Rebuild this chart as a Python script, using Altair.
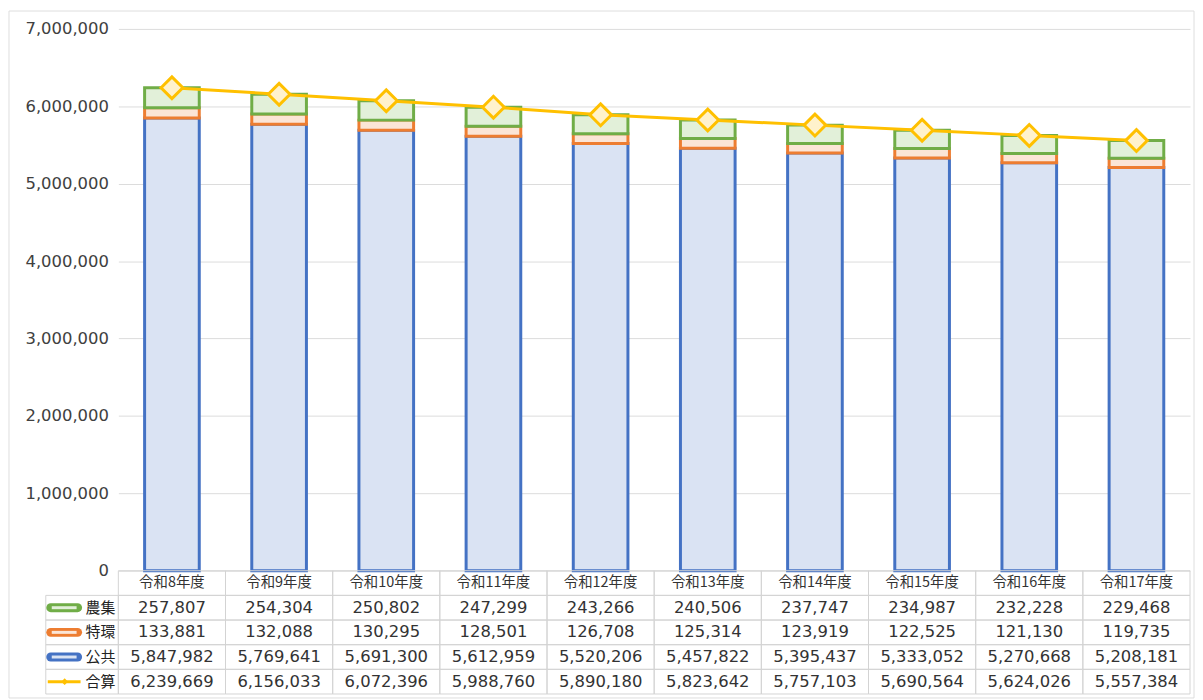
import altair as alt
import pandas as pd

categories = ["令和8年度", "令和9年度", "令和10年度", "令和11年度", "令和12年度",
              "令和13年度", "令和14年度", "令和15年度", "令和16年度", "令和17年度"]
nosyu = [257807, 254304, 250802, 247299, 243266, 240506, 237747, 234987, 232228, 229468]
tokkan = [133881, 132088, 130295, 128501, 126708, 125314, 123919, 122525, 121130, 119735]
kokyo = [5847982, 5769641, 5691300, 5612959, 5520206, 5457822, 5395437, 5333052, 5270668, 5208181]
total = [6239669, 6156033, 6072396, 5988760, 5890180, 5823642, 5757103, 5690564, 5624026, 5557384]
y_ticks = [0, 1000000, 2000000, 3000000, 4000000, 5000000, 6000000, 7000000]

series_names = ["公共", "特環", "農集"]
series_values = {"公共": kokyo, "特環": tokkan, "農集": nosyu}
stroke_colors = ["#4472C4", "#ED7D31", "#70AD47"]
fill_colors = ["#DAE3F3", "#FBE5D6", "#E2F0D9"]
line_color = "#FFC000"
diamond_fill = "#FFF2CC"

NUM_FONT = "DejaVu Sans"
CJK_FONT = "Noto Sans CJK JP"
TEXT_COLOR = "#404040"

rows = []
for i, s in enumerate(series_names):
    for c, v in zip(categories, series_values[s]):
        rows.append({"cat": c, "series": s, "value": v, "ord": i})
bar_df = pd.DataFrame(rows)
tot_df = pd.DataFrame({"cat": categories, "value": total})

W = 1078
H_TOP = 545
H_TAB = 124

x_top = alt.X("cat:N", sort=categories, axis=None,
              scale=alt.Scale(paddingInner=0.49, paddingOuter=0.245))
y_scale = alt.Scale(domain=[0, 7000000])
y_axis = alt.Axis(values=y_ticks, format=",.0f", labelFont=NUM_FONT, labelFontSize=16.5,
                  labelColor=TEXT_COLOR, labelPadding=10, domain=False, ticks=False,
                  gridColor="#dcdcdc", gridWidth=1)

frame = alt.Chart(pd.DataFrame({"k": [0]})).mark_rect(
    fillOpacity=0, stroke="#dedede", strokeWidth=1).encode(
    x=alt.value(-110), x2=alt.value(W + 4), y=alt.value(-18), y2=alt.value(H_TOP + H_TAB + 4))
bars = alt.Chart(bar_df).mark_bar(strokeWidth=3).encode(
    x=x_top,
    y=alt.Y("value:Q", stack="zero", scale=y_scale, axis=y_axis, title=None),
    fill=alt.Fill("series:N", scale=alt.Scale(domain=series_names, range=fill_colors), legend=None),
    stroke=alt.Stroke("series:N", scale=alt.Scale(domain=series_names, range=stroke_colors), legend=None),
    order=alt.Order("ord:Q", sort="ascending"),
)
line = alt.Chart(tot_df).mark_line(color=line_color, strokeWidth=3).encode(
    x=x_top, y=alt.Y("value:Q", scale=y_scale, title=None))
pts = alt.Chart(tot_df).mark_point(shape="diamond", size=480, filled=True, fill=diamond_fill,
                                   stroke=line_color, strokeWidth=3, opacity=1).encode(
    x=x_top, y=alt.Y("value:Q", scale=y_scale, title=None))
top = alt.layer(bars, line, pts, frame).properties(width=W, height=H_TOP)

# ---------- data table ----------
row_keys = ["header", "農集", "特環", "公共", "合算"]
table_vals = {"農集": nosyu, "特環": tokkan, "公共": kokyo, "合算": total}
cell_rows = []
for r in row_keys:
    for j, c in enumerate(categories):
        txt = c if r == "header" else f"{table_vals[r][j]:,}"
        cell_rows.append({"cat": c, "row": r, "txt": txt})
cell_df = pd.DataFrame(cell_rows)
name_df = pd.DataFrame({"row": ["農集", "特環", "公共", "合算"]})
sym_df = pd.DataFrame({"row": ["農集", "特環", "公共"]})

x_tab = alt.X("cat:N", sort=categories, axis=None, scale=alt.Scale(paddingInner=0, paddingOuter=0))
y_tab = alt.Y("row:N", sort=row_keys, axis=None,
              scale=alt.Scale(domain=row_keys, paddingInner=0, paddingOuter=0))
grid_color = "#d4d4d4"

cells = alt.Chart(cell_df).mark_rect(fillOpacity=0, stroke=grid_color, strokeWidth=1).encode(x=x_tab, y=y_tab)
head_txt = alt.Chart(cell_df).transform_filter(alt.datum.row == "header").mark_text(
    font=CJK_FONT, fontSize=14.5, color="#333333").encode(x=x_tab, y=y_tab, text="txt:N")
num_txt = alt.Chart(cell_df).transform_filter(alt.datum.row != "header").mark_text(
    font=NUM_FONT, fontSize=16.5, color="#333333").encode(x=x_tab, y=y_tab, text="txt:N")
left_cells = alt.Chart(name_df).mark_rect(fillOpacity=0, stroke=grid_color, strokeWidth=1).encode(
    x=alt.value(-73), x2=alt.value(0), y=y_tab)
sym_outer = alt.Chart(sym_df).mark_rule(strokeWidth=9, strokeCap="round").encode(
    x=alt.value(-68), x2=alt.value(-41), y=y_tab,
    stroke=alt.Stroke("row:N", scale=alt.Scale(domain=series_names, range=stroke_colors), legend=None))
sym_inner = alt.Chart(sym_df).mark_rule(strokeWidth=3).encode(
    x=alt.value(-67), x2=alt.value(-42), y=y_tab,
    stroke=alt.Stroke("row:N", scale=alt.Scale(domain=series_names, range=fill_colors), legend=None))
tot_sym_df = pd.DataFrame({"row": ["合算"]})
sym_line = alt.Chart(tot_sym_df).mark_rule(strokeWidth=3, color=line_color).encode(
    x=alt.value(-71), x2=alt.value(-38), y=y_tab)
sym_pt = alt.Chart(tot_sym_df).mark_point(shape="diamond", size=45, filled=True, color=line_color,
                                          opacity=1).encode(x=alt.value(-54), y=y_tab)
names = alt.Chart(name_df).mark_text(font=CJK_FONT, fontSize=15, align="right", color="#222222").encode(
    x=alt.value(-3), y=y_tab, text="row:N")

table = alt.layer(cells, head_txt, num_txt, left_cells, sym_outer, sym_inner, sym_line, sym_pt, names
                  ).resolve_scale(stroke="independent").properties(width=W, height=H_TAB)

chart = alt.vconcat(top, table, spacing=0, bounds="flush").properties(
    padding={"left": 0, "top": 0, "right": 0, "bottom": 0}
).configure(background="white").configure_view(stroke=None)

chart.save("out.html", embed_options={"renderer": "svg", "actions": False})
